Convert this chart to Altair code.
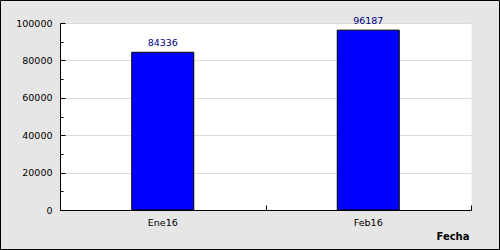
import altair as alt
import pandas as pd

meses = ["Ene16", "Feb16"]
valores = [84336, 96187]
y_ticks = [0, 20000, 40000, 60000, 80000, 100000]
y_minor = [10000, 30000, 50000, 70000, 90000]

df = pd.DataFrame({"mes": meses, "valor": valores})

FONT = "DejaVu Sans"
FS = 9.5
xscale = alt.Scale(domain=meses, paddingInner=0, paddingOuter=0)
yscale = alt.Scale(domain=[0, 100000], nice=False, zero=True)

base = alt.Chart(df)

bars = base.mark_bar(color="#0000ff", stroke="#000000", strokeWidth=1, size=62).encode(
    x=alt.X("mes:N", scale=xscale, sort=meses,
            axis=alt.Axis(orient="bottom", title="Fecha", ticks=False, grid=False,
                          domain=True, domainColor="black", labelAngle=0, labelPadding=7,
                          labelFont=FONT, labelFontSize=FS, labelColor="black",
                          titleFont=FONT, titleFontSize=10, titleFontWeight="bold",
                          titleColor="black", titleX=409, titleY=26, titleAlign="right",
                          titleBaseline="middle", titleAnchor="end")),
    y=alt.Y("valor:Q", scale=yscale,
            axis=alt.Axis(orient="left", values=y_ticks, format="d", ticks=False, grid=True,
                          gridColor="#dcdcdc", domainColor="black", labelPadding=8,
                          labelFont=FONT, labelFontSize=FS, labelColor="black", title=None)),
)

text = base.mark_text(dy=-6, baseline="alphabetic", color="#000080", font=FONT, fontSize=FS).encode(
    x=alt.X("mes:N", scale=xscale, sort=meses,
            axis=alt.Axis(orient="bottom", tickBand="extent", ticks=True, tickSize=5,
                          tickColor="black", offset=-5, labels=False, domain=False,
                          grid=False, title=None)),
    y=alt.Y("valor:Q", scale=yscale,
            axis=alt.Axis(orient="left", values=y_ticks, ticks=True, tickSize=5, tickColor="black",
                          offset=-5, labels=False, domain=False, grid=False, title=None)),
    text=alt.Text("valor:Q", format="d"),
)

minor = base.mark_bar(opacity=0).encode(
    x=alt.X("mes:N", scale=xscale, sort=meses, axis=None),
    y=alt.Y("valor:Q", scale=yscale,
            axis=alt.Axis(orient="left", values=y_minor, ticks=True, tickSize=3, tickColor="black",
                          offset=-3, labels=False, domain=False, grid=False, title=None)),
)

frame = alt.Chart(pd.DataFrame({"k": [0]})).mark_rect(
    fillOpacity=0, stroke="black", strokeWidth=1
).encode(
    x=alt.value(-59.5), x2=alt.value(439.5), y=alt.value(-22.5), y2=alt.value(226.5)
)

chart = alt.layer(bars, text, minor, frame).resolve_axis(
    x="independent", y="independent"
).properties(
    width=411, height=187,
    autosize=alt.AutoSizeParams(type="none"),
    padding={"left": 60, "top": 23, "right": 29, "bottom": 40},
    background="#e6e6e6",
).configure_view(stroke="transparent", fill="white")

chart.save("out.html", embed_options={"renderer": "svg", "actions": False})
